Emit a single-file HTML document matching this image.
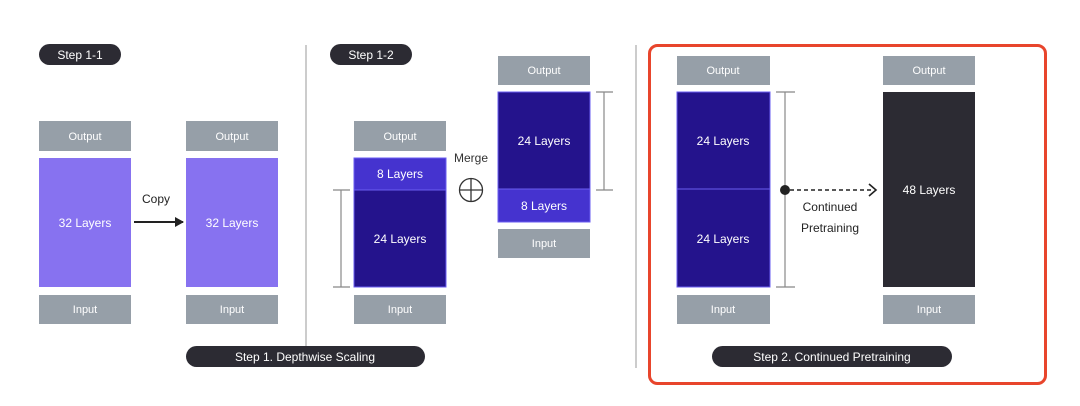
<!DOCTYPE html>
<html><head><meta charset="utf-8"><style>
html,body{margin:0;padding:0;background:#fff;}
svg text{font-family:"Liberation Sans",sans-serif;}
</style></head><body>
<svg width="1080" height="401" viewBox="0 0 1080 401" xmlns="http://www.w3.org/2000/svg">
<defs><marker id="ah" markerWidth="10" markerHeight="10" refX="8" refY="5" orient="auto" markerUnits="userSpaceOnUse"><path d="M0,0 L9,5 L0,10 z" fill="#222"/></marker></defs>
<!-- dividers -->
<line x1="306" y1="45" x2="306" y2="350" stroke="#999" stroke-width="1"/>
<line x1="636" y1="45" x2="636" y2="368" stroke="#999" stroke-width="1"/>
<!-- pills -->
<rect x="39" y="44" width="82" height="21" rx="10.5" fill="#2c2b33"/>
<text x="80" y="59" font-size="12" fill="#fff" text-anchor="middle">Step 1-1</text>
<rect x="330" y="44" width="82" height="21" rx="10.5" fill="#2c2b33"/>
<text x="371" y="59" font-size="12" fill="#fff" text-anchor="middle">Step 1-2</text>
<rect x="186" y="346" width="239" height="21" rx="10.5" fill="#2c2b33"/>
<text x="305" y="361" font-size="12" fill="#fff" text-anchor="middle">Step 1.  Depthwise Scaling</text>
<rect x="712" y="346" width="240" height="21" rx="10.5" fill="#2c2b33"/>
<text x="832" y="361" font-size="12" fill="#fff" text-anchor="middle">Step 2. Continued Pretraining</text>
<!-- red box -->
<rect x="649.5" y="45.5" width="396" height="338" rx="8" fill="none" stroke="#e8452c" stroke-width="3"/>
<g font-size="11" fill="#fff" text-anchor="middle">
<!-- col1 -->
<rect x="39" y="121" width="92" height="30" fill="#969fa8"/><text x="85" y="140">Output</text>
<rect x="39" y="158" width="92" height="129" fill="#8772f0"/><text x="85" y="227" font-size="12">32 Layers</text>
<rect x="39" y="295" width="92" height="29" fill="#969fa8"/><text x="85" y="313">Input</text>
<!-- col2 -->
<rect x="186" y="121" width="92" height="30" fill="#969fa8"/><text x="232" y="140">Output</text>
<rect x="186" y="158" width="92" height="129" fill="#8772f0"/><text x="232" y="227" font-size="12">32 Layers</text>
<rect x="186" y="295" width="92" height="29" fill="#969fa8"/><text x="232" y="313">Input</text>
<!-- col3 -->
<rect x="354" y="121" width="92" height="30" fill="#969fa8"/><text x="400" y="140">Output</text>
<rect x="354" y="158" width="92" height="32" fill="#4533cf" stroke="#6a5cf0" stroke-width="1"/><text x="400" y="178" font-size="12">8 Layers</text>
<rect x="354" y="190" width="92" height="97" fill="#24138c" stroke="#6a5cf0" stroke-width="1"/><text x="400" y="243" font-size="12">24 Layers</text>
<rect x="354" y="295" width="92" height="29" fill="#969fa8"/><text x="400" y="313">Input</text>
<!-- col4 -->
<rect x="498" y="56" width="92" height="29" fill="#969fa8"/><text x="544" y="74">Output</text>
<rect x="498" y="92" width="92" height="97" fill="#24138c" stroke="#6a5cf0" stroke-width="1"/><text x="544" y="145" font-size="12">24 Layers</text>
<rect x="498" y="189" width="92" height="33" fill="#4533cf" stroke="#6a5cf0" stroke-width="1"/><text x="544" y="210" font-size="12">8 Layers</text>
<rect x="498" y="229" width="92" height="29" fill="#969fa8"/><text x="544" y="247">Input</text>
<!-- col5 -->
<rect x="677" y="56" width="93" height="29" fill="#969fa8"/><text x="723" y="74">Output</text>
<rect x="677" y="92" width="93" height="97" fill="#24138c" stroke="#6a5cf0" stroke-width="1"/><text x="723" y="145" font-size="12">24 Layers</text>
<rect x="677" y="189" width="93" height="98" fill="#24138c" stroke="#6a5cf0" stroke-width="1"/><text x="723" y="243" font-size="12">24 Layers</text>
<rect x="677" y="295" width="93" height="29" fill="#969fa8"/><text x="723" y="313">Input</text>
<!-- col6 -->
<rect x="883" y="56" width="92" height="29" fill="#969fa8"/><text x="929" y="74">Output</text>
<rect x="883" y="92" width="92" height="195" fill="#2c2b33"/><text x="929" y="194" font-size="12">48 Layers</text>
<rect x="883" y="295" width="92" height="29" fill="#969fa8"/><text x="929" y="313">Input</text>
</g>
<!-- copy arrow -->
<text x="156" y="203" font-size="12" fill="#222" text-anchor="middle">Copy</text>
<line x1="134" y1="222" x2="183" y2="222" stroke="#222" stroke-width="2" marker-end="url(#ah)"/>
<!-- brackets -->
<g stroke="#888" stroke-width="1.2">
<line x1="341" y1="190" x2="341" y2="287"/><line x1="333" y1="190" x2="350" y2="190"/><line x1="333" y1="287" x2="350" y2="287"/>
<line x1="604" y1="92" x2="604" y2="190"/><line x1="596" y1="92" x2="613" y2="92"/><line x1="596" y1="190" x2="613" y2="190"/>
<line x1="785" y1="92" x2="785" y2="287"/><line x1="776" y1="92" x2="795" y2="92"/><line x1="776" y1="287" x2="795" y2="287"/>
</g>
<!-- merge -->
<text x="471" y="162" font-size="12" fill="#333" text-anchor="middle">Merge</text>
<circle cx="471" cy="190" r="11.5" fill="none" stroke="#333" stroke-width="1.3"/>
<line x1="459.5" y1="190" x2="482.5" y2="190" stroke="#333" stroke-width="1.3"/>
<line x1="471" y1="178.5" x2="471" y2="201.5" stroke="#333" stroke-width="1.3"/>
<!-- continued pretraining -->
<circle cx="785" cy="190" r="5" fill="#222"/>
<line x1="790" y1="190" x2="874" y2="190" stroke="#222" stroke-width="1.6" stroke-dasharray="4,3"/>
<polyline points="869,184 876,190 869,196" fill="none" stroke="#222" stroke-width="1.6"/>
<text x="830" y="211" font-size="12" fill="#222" text-anchor="middle">Continued</text>
<text x="830" y="232" font-size="12" fill="#222" text-anchor="middle">Pretraining</text>
</svg>
</body></html>
